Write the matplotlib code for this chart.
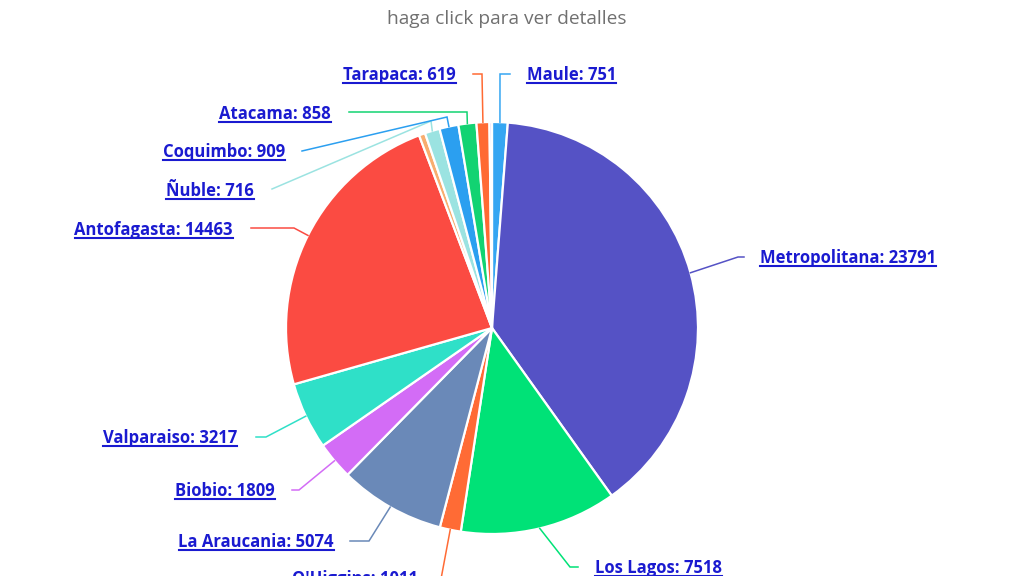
import matplotlib
matplotlib.use("Agg")
import matplotlib.pyplot as plt
from matplotlib.lines import Line2D
import numpy as np

W, H = 1024, 576
FONT = ["Open Sans", "DejaVu Sans"]
LINK = "#1a1ad0"

# regions in drawing order (clockwise from 12 o'clock); "" = tiny unlabeled slice
regions = ["Maule", "Metropolitana", "Los Lagos", "O'Higgins", "La Araucania", "Biobio",
           "Valparaiso", "Antofagasta", "", "Ñuble", "Coquimbo", "Atacama", "Tarapaca", ""]
counts = [751, 23791, 7518, 1011, 5074, 1809, 3217, 14463, 300, 716, 909, 858, 619, 120]
colors = ["#35a6f2", "#5552c5", "#00e277", "#ff6b35", "#6a89b8", "#d36cf6", "#2fe0c8",
          "#fb4b42", "#f8ad6f", "#9be3e1", "#2b9ff0", "#12d372", "#ff6a33", "#c9b4f2"]

# label layout in screen pixels (y down): elbow, line end, text x, text centre y, align
layout = {
    "Maule":         ((500, 74), (510, 74), 527, 74, "left"),
    "Metropolitana": ((738, 257), (744, 257), 760, 257, "left"),
    "Los Lagos":     ((570, 567), (578, 567), 595, 567, "left"),
    "O'Higgins":     ((441, 579), (434, 579), 418, 578, "right"),
    "La Araucania":  ((369, 541), (350, 541), 334, 541, "right"),
    "Biobio":        ((299, 490), (292, 490), 275, 490, "right"),
    "Valparaiso":    ((266, 437), (256, 437), 237, 437, "right"),
    "Antofagasta":   ((294, 228), (251, 228), 233, 229, "right"),
    "Ñuble":         ((431, 121), (272, 189), 254, 190, "right"),
    "Coquimbo":      ((447, 117), (302, 151), 285, 151, "right"),
    "Atacama":       ((467, 112), (349, 112), 331, 113, "right"),
    "Tarapaca":      ((482, 74), (473, 74), 456, 74, "right"),
}

CX, CY, R = 492, 328, 206

fig = plt.figure(figsize=(W / 100, H / 100), dpi=100)
ax = fig.add_axes([0, 0, 1, 1])

wedges, _ = ax.pie(counts, colors=colors, startangle=90, counterclock=False,
                   center=(CX, H - CY), radius=R,
                   wedgeprops=dict(edgecolor="white", linewidth=1.6))
ax.set_xlim(0, W)
ax.set_ylim(0, H)
ax.set_aspect("equal")
ax.axis("off")

fig.text(507 / W, 1 - 19 / H, "haga click para ver detalles", ha="center", va="center",
         fontsize=13.8, color="#707070", family=FONT)

texts = []
for w, name, val, col in zip(wedges, regions, counts, colors):
    if not name:
        continue
    mid = np.deg2rad((w.theta1 + w.theta2) / 2)
    sx, sy = CX + R * np.cos(mid), (H - CY) + R * np.sin(mid)
    (ex, ey), (lx, ly), tx, ty, ha = layout[name]
    ax.plot([sx, ex, lx], [sy, H - ey, H - ly], color=col, lw=1.1,
            solid_joinstyle="miter", zorder=1)
    t = ax.text(tx, H - ty - 6, f"{name}: {val}", ha=ha, va="baseline",
                fontsize=12, fontweight="bold", color=LINK, family=FONT)
    texts.append(t)

# underline the labels like links
fig.canvas.draw()
renderer = fig.canvas.get_renderer()
for t in texts:
    bb = t.get_window_extent(renderer)
    y = t.get_position()[1] - 3
    ax.add_line(Line2D([bb.x0, bb.x1], [y, y], color=LINK, lw=1.5))

fig.savefig("out.png", dpi=100)
